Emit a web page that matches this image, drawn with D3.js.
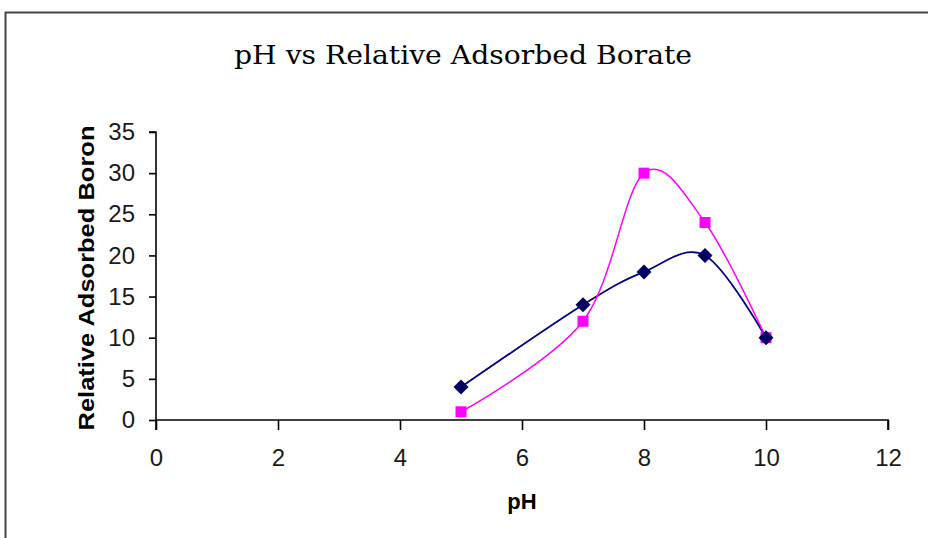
<!DOCTYPE html>
<html>
<head>
<meta charset="utf-8">
<script src="https://cdn.jsdelivr.net/npm/d3@7"></script>
<style>
  html, body { margin: 0; padding: 0; background: #fff; }
  svg { display: block; }
</style>
</head>
<body>
<svg id="chart" width="928" height="538"></svg>
<script>
// pH values and relative adsorbed boron for the two measurement series
const phValues = [5, 7, 8, 9, 10];
const seriesA = [4, 14, 18, 20, 10];   // navy diamonds
const seriesB = [1, 12, 30, 24, 10];   // magenta squares
const xTicks = [0, 2, 4, 6, 8, 10, 12];
const yTicks = [0, 5, 10, 15, 20, 25, 30, 35];

const SANS = "'Liberation Sans', Arial, sans-serif";
const SERIF = "'DejaVu Serif', 'Liberation Serif', serif";

const svg = d3.select("#chart");

// chart area frame (open on the right and bottom edges of the window)
svg.append("rect")
  .attr("x", 5.5).attr("y", 12.5)
  .attr("width", 940).attr("height", 540)
  .attr("fill", "#fff")
  .attr("stroke", "#444").attr("stroke-width", 2);

const x = d3.scaleLinear().domain([0, 12]).range([156, 888]);
const y = d3.scaleLinear().domain([0, 35]).range([420, 132]);

// axes
const xAxis = svg.append("g")
  .attr("transform", `translate(0,${y(0)})`)
  .call(d3.axisBottom(x).tickValues(xTicks).tickSize(10).tickPadding(19).tickFormat(d3.format("d")));
const yAxis = svg.append("g")
  .attr("transform", `translate(${x(0)},0)`)
  .call(d3.axisLeft(y).tickValues(yTicks).tickSize(7).tickPadding(14).tickFormat(d3.format("d")));

[xAxis, yAxis].forEach(g => {
  g.select(".domain").attr("stroke", "#000").attr("stroke-width", 1.6);
  g.selectAll(".tick line").attr("stroke", "#000").attr("stroke-width", 1.6);
  g.selectAll(".tick text")
    .attr("font-size", 24)
    .attr("font-family", SANS)
    .attr("fill", "#1a1a1a");
});
// the y axis line runs down past zero to meet the first x tick
yAxis.select(".domain").attr("d", `M-7,${y(35)}H0V${y(0) + 10}`);
xAxis.select(".domain").attr("d", `M${x(0)},0H${x(12)}V10`);

// smoothed series lines
const line = d3.line()
  .x((d, i) => x(phValues[i]))
  .y(d => y(d))
  .curve(d3.curveCatmullRom.alpha(0));

svg.append("path").datum(seriesA)
  .attr("d", line).attr("fill", "none")
  .attr("stroke", "#000080").attr("stroke-width", 1.8);
svg.append("path").datum(seriesB)
  .attr("d", line).attr("fill", "none")
  .attr("stroke", "#FF00FF").attr("stroke-width", 1.5);

// markers
svg.append("g").selectAll("rect")
  .data(seriesB).join("rect")
  .attr("x", (d, i) => x(phValues[i]) - 5.5)
  .attr("y", d => y(d) - 5.5)
  .attr("width", 11).attr("height", 11)
  .attr("fill", "#FF00FF");

svg.append("g").selectAll("path")
  .data(seriesA).join("path")
  .attr("transform", (d, i) => `translate(${x(phValues[i])},${y(d)})`)
  .attr("d", "M0,-7.5L7.5,0L0,7.5L-7.5,0Z")
  .attr("fill", "#000060");

// titles
svg.append("text")
  .attr("x", 463).attr("y", 64)
  .attr("text-anchor", "middle")
  .attr("font-family", SERIF)
  .attr("font-size", 26)
  .attr("fill", "#000")
  .attr("textLength", 458).attr("lengthAdjust", "spacingAndGlyphs")
  .text("pH vs Relative Adsorbed Borate");

svg.append("text")
  .attr("x", 522).attr("y", 509)
  .attr("text-anchor", "middle")
  .attr("font-family", SANS)
  .attr("font-size", 22).attr("font-weight", "bold")
  .attr("fill", "#000")
  .text("pH");

svg.append("text")
  .attr("transform", "translate(94,278) rotate(-90)")
  .attr("text-anchor", "middle")
  .attr("font-family", SANS)
  .attr("font-size", 22).attr("font-weight", "bold")
  .attr("fill", "#000")
  .attr("textLength", 305).attr("lengthAdjust", "spacingAndGlyphs")
  .text("Relative Adsorbed Boron");
</script>
</body>
</html>
